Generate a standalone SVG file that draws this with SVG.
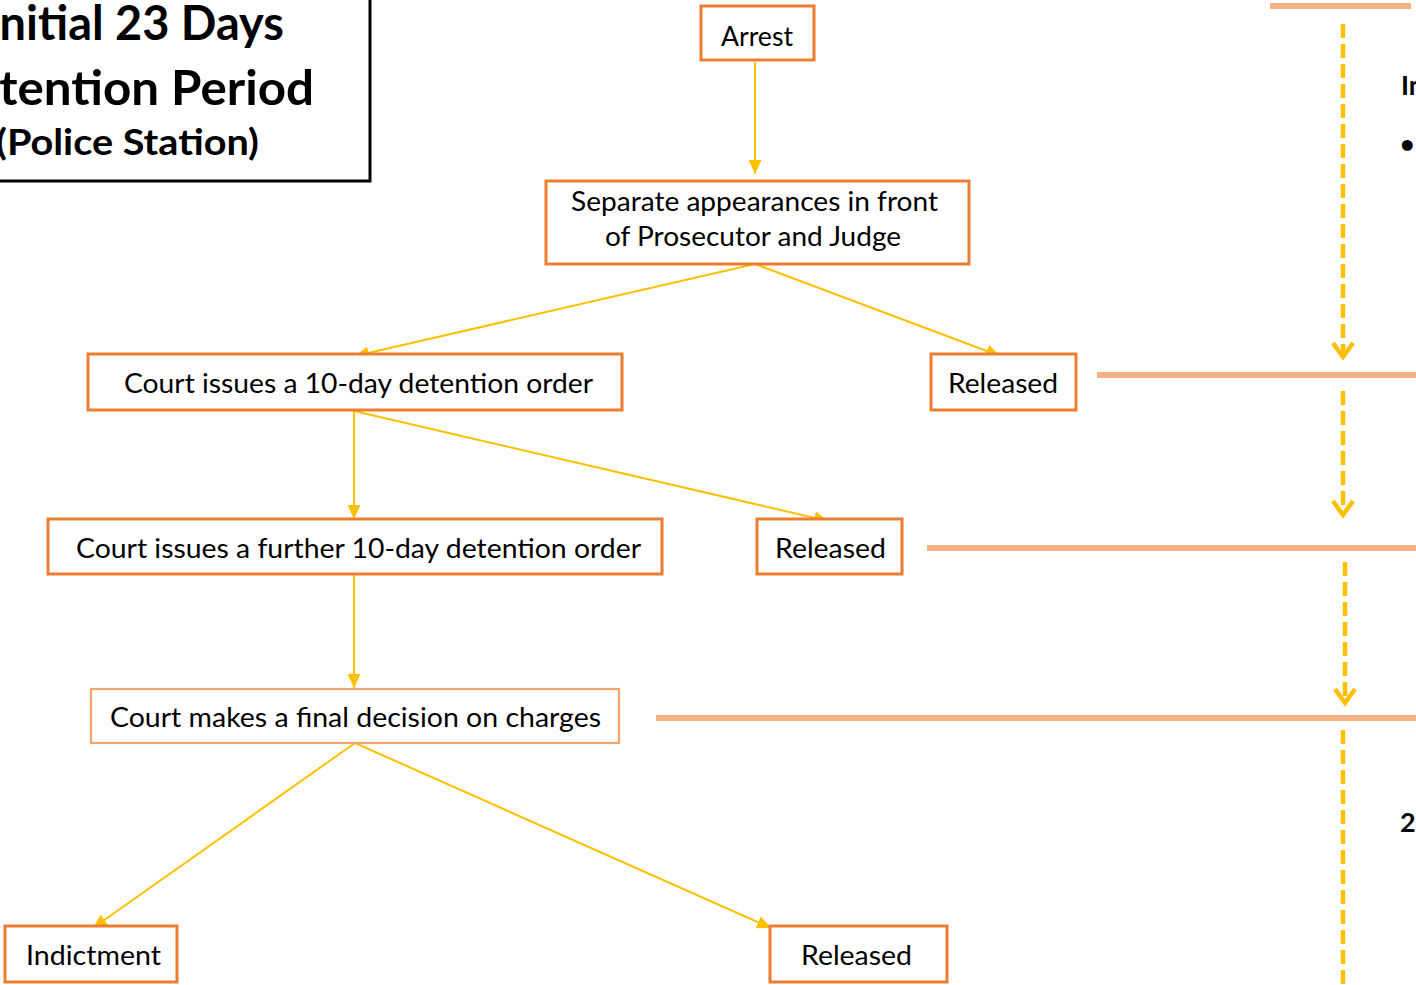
<svg xmlns="http://www.w3.org/2000/svg" width="1416" height="985" viewBox="0 0 1416 985">
<style>
.box{fill:#fff;stroke:#ED7D31;stroke-width:3}
.box2{fill:#fff;stroke:#F2A46C;stroke-width:2.2}
.t{font-family:Lato,"Liberation Sans",sans-serif;font-size:26px;fill:#000}
.title{font-family:Lato,"Liberation Sans",sans-serif;font-weight:bold;fill:#000}
.conn{stroke:#FFC000;stroke-width:2;fill:none}
.dash{stroke:#FFC000;stroke-width:4.5;fill:none;stroke-dasharray:14 6}
.band{stroke:#F4B183;stroke-width:6}
</style>
<defs>
<marker id="ah" markerUnits="userSpaceOnUse" markerWidth="15" markerHeight="13" refX="14" refY="6.5" orient="auto">
<path d="M0,0 L14,6.5 L0,13 Z" fill="#FFC000"/>
</marker>
<marker id="chev" markerUnits="userSpaceOnUse" markerWidth="20" markerHeight="26" refX="16" refY="13" orient="auto" overflow="visible">
<path d="M2,3 L16,13 L2,23" fill="none" stroke="#FFC000" stroke-width="4.5" stroke-linejoin="miter"/>
</marker>
</defs>
<rect width="1416" height="985" fill="#fff"/>

<g id="title">
<rect x="-10" y="-10" width="380" height="191" fill="#fff" stroke="#000" stroke-width="3"/>
<text class="title" x="-14" y="40" font-size="47" textLength="298" lengthAdjust="spacingAndGlyphs">Initial 23 Days</text>
<text class="title" x="-64" y="105" font-size="47" textLength="378" lengthAdjust="spacingAndGlyphs">Detention Period</text>
<text class="title" x="-4" y="155" font-size="37" textLength="263" lengthAdjust="spacingAndGlyphs">(Police Station)</text>
</g>

<g id="bands">
<line class="band" x1="1270" y1="6" x2="1411" y2="6"/>
<line class="band" x1="1097" y1="375" x2="1416" y2="375"/>
<line class="band" x1="927" y1="548" x2="1416" y2="548"/>
<line class="band" x1="656" y1="718" x2="1416" y2="718"/>
</g>

<g id="right-text">
<text class="title" x="1401" y="95" font-size="27">In</text>
<text class="title" x="1400" y="153" font-size="25">•</text>
<text class="title" x="1400" y="832" font-size="27">2</text>
</g>

<g id="connectors">
<line class="conn" x1="755" y1="62" x2="755" y2="174" marker-end="url(#ah)"/>
<line class="conn" x1="755" y1="264" x2="355" y2="356" marker-end="url(#ah)"/>
<line class="conn" x1="755" y1="264" x2="1000" y2="356" marker-end="url(#ah)"/>
<line class="conn" x1="354" y1="411" x2="354" y2="519" marker-end="url(#ah)"/>
<line class="conn" x1="354" y1="411" x2="828" y2="521" marker-end="url(#ah)"/>
<line class="conn" x1="354" y1="575" x2="354" y2="688" marker-end="url(#ah)"/>
<line class="conn" x1="355" y1="743" x2="93" y2="928" marker-end="url(#ah)"/>
<line class="conn" x1="355" y1="743" x2="771" y2="928" marker-end="url(#ah)"/>
<line class="dash" x1="1343" y1="24" x2="1343" y2="357" marker-end="url(#chev)"/>
<line class="dash" x1="1343" y1="391" x2="1343" y2="515" marker-end="url(#chev)"/>
<line class="dash" x1="1345" y1="562" x2="1345" y2="703" marker-end="url(#chev)"/>
<line class="dash" x1="1343" y1="730" x2="1343" y2="985"/>
</g>

<g id="arrest">
<rect class="box" x="701" y="6" width="113" height="54"/>
<text class="t" x="721" y="46" textLength="72" lengthAdjust="spacingAndGlyphs">Arrest</text>
</g>
<g id="separate">
<rect class="box" x="546" y="181" width="423" height="83"/>
<text class="t" x="571" y="211" textLength="367" lengthAdjust="spacingAndGlyphs">Separate appearances in front</text>
<text class="t" x="605" y="246" textLength="296" lengthAdjust="spacingAndGlyphs">of Prosecutor and Judge</text>
</g>
<g id="order10">
<rect class="box" x="88" y="354" width="534" height="56"/>
<text class="t" x="124" y="393" textLength="469" lengthAdjust="spacingAndGlyphs">Court issues a 10-day detention order</text>
</g>
<g id="released1">
<rect class="box" x="931" y="354" width="145" height="56"/>
<text class="t" x="948" y="393" textLength="110" lengthAdjust="spacingAndGlyphs">Released</text>
</g>
<g id="further">
<rect class="box" x="48" y="519" width="614" height="55"/>
<text class="t" x="76" y="558" textLength="565" lengthAdjust="spacingAndGlyphs">Court issues a further 10-day detention order</text>
</g>
<g id="released2">
<rect class="box" x="757" y="519" width="145" height="55"/>
<text class="t" x="775" y="558" textLength="111" lengthAdjust="spacingAndGlyphs">Released</text>
</g>
<g id="final">
<rect class="box2" x="91" y="689" width="528" height="54"/>
<text class="t" x="110" y="727" textLength="491" lengthAdjust="spacingAndGlyphs">Court makes a final decision on charges</text>
</g>
<g id="indictment">
<rect class="box" x="5" y="926" width="172" height="56"/>
<text class="t" x="26" y="965" textLength="135" lengthAdjust="spacingAndGlyphs">Indictment</text>
</g>
<g id="released3">
<rect class="box" x="770" y="926" width="177" height="56"/>
<text class="t" x="801" y="965" textLength="111" lengthAdjust="spacingAndGlyphs">Released</text>
</g>
</svg>
